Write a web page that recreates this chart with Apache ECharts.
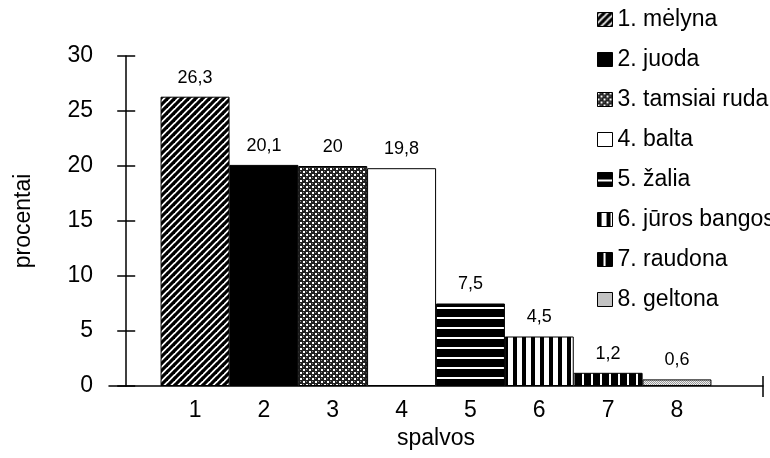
<!DOCTYPE html>
<html>
<head>
<meta charset="utf-8">
<title>spalvos</title>
<script src="https://cdn.jsdelivr.net/npm/echarts@6/dist/echarts.min.js"></script>
<style>
  html, body { margin: 0; padding: 0; background: #fff; }
  #chart { width: 770px; height: 458px; }
</style>
</head>
<body>
<div id="chart"></div>
<script>
// duomenys
var categories = [1, 2, 3, 4, 5, 6, 7, 8];
var values = [26.3, 20.1, 20, 19.8, 7.5, 4.5, 1.2, 0.6];
var legendNames = ["1. mėlyna", "2. juoda", "3. tamsiai ruda", "4. balta",
                   "5. žalia", "6. jūros bangos", "7. raudona", "8. geltona"];

var FONT = "Liberation Sans, Arial, Helvetica, sans-serif";

// raštai stulpeliams (canvas tile)
function tile(w, h, draw) {
  var c = document.createElement("canvas");
  c.width = w; c.height = h;
  var ctx = c.getContext("2d");
  draw(ctx, w, h);
  return { image: c, repeat: "repeat" };
}

var patterns = [
  // 1 - įstrižos linijos
  tile(7, 7, function (ctx, w, h) {
    ctx.fillStyle = "#fff"; ctx.fillRect(0, 0, w, h);
    ctx.strokeStyle = "#000"; ctx.lineWidth = 3.2;
    for (var k = -1; k <= 1; k++) {
      ctx.beginPath();
      ctx.moveTo(k * w - 1, h + 1);
      ctx.lineTo(k * w + w + 1, -1);
      ctx.stroke();
    }
  }),
  // 2 - juoda
  "#000",
  // 3 - taškuotas tamsus
  tile(6, 6, function (ctx, w, h) {
    ctx.fillStyle = "#222"; ctx.fillRect(0, 0, w, h);
    ctx.fillStyle = "#fff";
    ctx.fillRect(0, 0, 2, 2);
    ctx.fillRect(3, 3, 2, 2);
    ctx.fillStyle = "#888";
    ctx.fillRect(3, 0, 1, 1);
    ctx.fillRect(0, 3, 1, 1);
  }),
  // 4 - balta
  "#fff",
  // 5 - horizontalios baltos linijos juodame fone
  tile(10, 10, function (ctx, w, h) {
    ctx.fillStyle = "#000"; ctx.fillRect(0, 0, w, h);
    ctx.fillStyle = "#fff"; ctx.fillRect(0, 7, w, 2);
  }),
  // 6 - vertikalios juodos linijos baltame fone
  tile(9, 10, function (ctx, w, h) {
    ctx.fillStyle = "#fff"; ctx.fillRect(0, 0, w, h);
    ctx.fillStyle = "#000"; ctx.fillRect(0, 0, 4, h);
  }),
  // 7 - vertikalios baltos linijos juodame fone
  tile(9, 10, function (ctx, w, h) {
    ctx.fillStyle = "#000"; ctx.fillRect(0, 0, w, h);
    ctx.fillStyle = "#fff"; ctx.fillRect(6, 0, 2, h);
  }),
  // 8 - šviesiai pilkas taškuotas
  tile(2, 2, function (ctx, w, h) {
    ctx.fillStyle = "#eee"; ctx.fillRect(0, 0, w, h);
    ctx.fillStyle = "#999";
    ctx.fillRect(0, 0, 1, 1);
    ctx.fillRect(1, 1, 1, 1);
  })
];

var chart = echarts.init(document.getElementById("chart"), null, { renderer: "canvas" });

// kiekvienai spalvai - atskira serija (dėl legendos)
var series = categories.map(function (cat, i) {
  return {
    name: legendNames[i],
    type: "bar",
    stack: "all",
    barWidth: 69,
    data: categories.map(function (c, j) {
      return [c, j === i ? values[i] : "-"];
    }),
    itemStyle: {
      color: patterns[i],
      borderColor: "#000",
      borderWidth: 1
    },
    label: {
      show: true,
      position: "top",
      distance: 10,
      color: "#000",
      fontFamily: FONT,
      fontSize: 18,
      formatter: function (p) {
        return String(p.value[1]).replace(".", ",");
      }
    }
  };
});

chart.setOption({
  animation: false,
  backgroundColor: "#fff",
  textStyle: { fontFamily: FONT, color: "#000" },
  grid: { left: 109, right: 7, top: 56, bottom: 72, containLabel: false },
  legend: {
    orient: "vertical",
    left: 597,
    top: 8,
    padding: 0,
    itemGap: 17,
    itemWidth: 15,
    itemHeight: 14,
    icon: "rect",
    selectedMode: false,
    itemStyle: { borderColor: "#000", borderWidth: 1 },
    textStyle: { fontFamily: FONT, fontSize: 23, color: "#000" },
    data: legendNames
  },
  xAxis: [
    {
      type: "value",
      position: "bottom",
      min: -0.25,
      max: 9.25,
      name: "spalvos",
      nameLocation: "middle",
      nameGap: 40,
      nameTextStyle: { fontFamily: FONT, fontSize: 23, color: "#000" },
      axisLine: { show: true, lineStyle: { color: "#000", width: 1.5 } },
      axisTick: { show: true, customValues: [9.25], length: 11, lineStyle: { color: "#000", width: 1.5 } },
      axisLabel: { customValues: categories, fontFamily: FONT, fontSize: 23, color: "#000", margin: 13 },
      splitLine: { show: false }
    },
    {
      // antra ašis - tik vidinė galinė žymė
      type: "value",
      position: "bottom",
      min: -0.25,
      max: 9.25,
      axisLine: { show: false },
      axisTick: { show: true, inside: true, customValues: [9.25], length: 10, lineStyle: { color: "#000", width: 1.5 } },
      axisLabel: { show: false },
      splitLine: { show: false }
    }
  ],
  yAxis: [
    {
      type: "value",
      position: "left",
      min: 0,
      max: 30,
      interval: 5,
      name: "procentai",
      nameLocation: "middle",
      nameRotate: 90,
      nameGap: 74,
      nameTextStyle: { fontFamily: FONT, fontSize: 23, color: "#000" },
      axisLine: { show: true, lineStyle: { color: "#000", width: 1.5 } },
      axisTick: { show: true, length: 9, lineStyle: { color: "#000", width: 1.5 } },
      axisLabel: { fontFamily: FONT, fontSize: 23, color: "#000", margin: 16 },
      splitLine: { show: false }
    },
    {
      // antra ašis - vidinės žymės
      type: "value",
      position: "left",
      min: 0,
      max: 30,
      interval: 5,
      axisLine: { show: false },
      axisTick: { show: true, inside: true, length: 9, lineStyle: { color: "#000", width: 1.5 } },
      axisLabel: { show: false },
      splitLine: { show: false }
    }
  ],
  series: series
});
</script>
</body>
</html>
